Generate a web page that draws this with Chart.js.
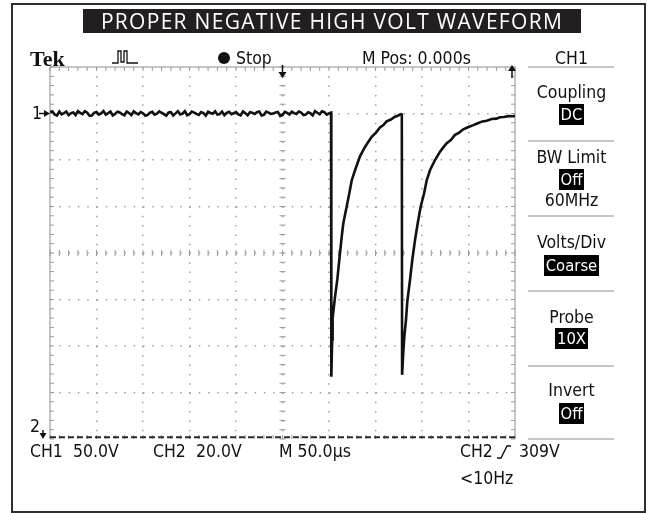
<!DOCTYPE html>
<html>
<head>
<meta charset="utf-8">
<title>Proper negative high volt waveform</title>
<script src="https://cdn.jsdelivr.net/npm/chart.js@4.4.1/dist/chart.umd.min.js"></script>
<style>
  html, body { margin: 0; padding: 0; background: #fff; }
  #wrap { position: relative; width: 648px; height: 513px; overflow: hidden; background: #fff; }
  #frame { position: absolute; left: 11px; top: 3px; width: 635px; height: 510px; box-sizing: border-box; border: 2.5px solid #2e2e2e; }
  #scope { position: absolute; left: 0; top: 0; }
  .t { position: absolute; font-family: "DejaVu Sans Condensed", "DejaVu Sans", sans-serif; font-stretch: condensed; font-size: 17.5px; line-height: 1; color: #111; white-space: nowrap; }
  #title { position: absolute; left: 83px; top: 9px; width: 498px; height: 24px; background: #231f20; color: #fff; text-align: center; font-family: "Open Sans", "Noto Sans", sans-serif; font-size: 21px; line-height: 25px; letter-spacing: 1.3px; }
  #tek { position: absolute; left: 30px; top: 48px; font-family: "Liberation Serif", serif; font-weight: bold; font-size: 22px; line-height: 1; color: #111; }
  #dot { position: absolute; left: 218px; top: 52px; width: 12px; height: 12px; border-radius: 50%; background: #111; }
  .panel { position: absolute; left: 528px; width: 87px; text-align: center; }
  .sep { position: absolute; left: 528px; width: 86px; height: 1.5px; background: #c6c6c6; }
  .box { display: inline-block; background: #000; color: #fff; padding: 2px 2px; line-height: 17px; font-size: 16.5px; }
  #icons { position: absolute; left: 0; top: 0; }
</style>
</head>
<body>
<div id="wrap">
  <canvas id="scope" width="648" height="513"></canvas>
  <div id="frame"></div>
  <div id="title">PROPER NEGATIVE HIGH VOLT WAVEFORM</div>

  <svg id="icons" width="648" height="513" viewBox="0 0 648 513">
    <polyline points="112,63 118,63 118,51 121,51 121,62 124,62 124,51 127,51 127,63 138,63"
      fill="none" stroke="#111" stroke-width="1.3"/>
    <polyline points="497,458 501,458 507,446 511,446" fill="none" stroke="#111" stroke-width="1.4"/>
  </svg>

  <div id="tek">Tek</div>
  <div id="dot"></div>
  <div class="t" style="left:236px;top:50px">Stop</div>
  <div class="t" style="left:362px;top:50px">M Pos: 0.000s</div>

  <div class="t panel" style="top:50px">CH1</div>
  <div class="sep" style="top:66px"></div>
  <div class="t panel" style="top:84px">Coupling</div>
  <div class="t panel" style="top:104px"><span class="box">DC</span></div>
  <div class="sep" style="top:140px"></div>
  <div class="t panel" style="top:149px">BW Limit</div>
  <div class="t panel" style="top:169px"><span class="box">Off</span></div>
  <div class="t panel" style="top:192px">60MHz</div>
  <div class="sep" style="top:215px"></div>
  <div class="t panel" style="top:234px">Volts/Div</div>
  <div class="t panel" style="top:255px"><span class="box">Coarse</span></div>
  <div class="sep" style="top:290px"></div>
  <div class="t panel" style="top:309px">Probe</div>
  <div class="t panel" style="top:328px"><span class="box">10X</span></div>
  <div class="sep" style="top:365px"></div>
  <div class="t panel" style="top:382px">Invert</div>
  <div class="t panel" style="top:403px"><span class="box">Off</span></div>
  <div class="sep" style="top:438px"></div>

  <div class="t" style="left:32px;top:105px">1</div>
  <div class="t" style="left:30px;top:418px">2</div>

  <div class="t" style="left:30px;top:443px">CH1</div>
  <div class="t" style="left:73px;top:443px">50.0V</div>
  <div class="t" style="left:153px;top:443px">CH2</div>
  <div class="t" style="left:196px;top:443px">20.0V</div>
  <div class="t" style="left:279px;top:443px">M 50.0µs</div>
  <div class="t" style="left:460px;top:443px">CH2</div>
  <div class="t" style="left:519px;top:443px">309V</div>
  <div class="t" style="left:460px;top:470px">&lt;10Hz</div>
</div>

<script>
// time base 50 us/div, CH1 50 V/div, CH1 ground one division below the top
const flatTimeUs = [
  -250, -247.5, -245, -242.5, -240, -237.5, -235, -232.5, -230, -227.5,
  -225, -222.5, -220, -217.5, -215, -212.5, -210, -207.5, -205, -202.5,
  -200, -197.5, -195, -192.5, -190, -187.5, -185, -182.5, -180, -177.5,
  -175, -172.5, -170, -167.5, -165, -162.5, -160, -157.5, -155, -152.5,
  -150, -147.5, -145, -142.5, -140, -137.5, -135, -132.5, -130, -127.5,
  -125, -122.5, -120, -117.5, -115, -112.5, -110, -107.5, -105, -102.5,
  -100, -97.5, -95, -92.5, -90, -87.5, -85, -82.5, -80, -77.5,
  -75, -72.5, -70, -67.5, -65, -62.5, -60, -57.5, -55, -52.5,
  -50, -47.5, -45, -42.5, -40, -37.5, -35, -32.5, -30, -27.5,
  -25, -22.5, -20, -17.5, -15, -12.5, -10, -7.5, -5, -2.5,
  0, 2.5, 5, 7.5, 10, 12.5, 15, 17.5, 20, 22.5,
  25, 27.5, 30, 32.5, 35, 37.5, 40, 42.5, 45, 47.5,
  50
];
const flatCh1V = [
  1.5, 2.4, -1.0, -2.2, 2.2, -0.9, 0.4, 2.1, -1.8, 0.3,
  1.1, -1.6, 2.6, 0.7, -0.6, 2.5, 0.9, -2.4, -2.1, 0.8,
  1.7, -1.1, 0.2, 2.6, -1.3, 0.4, 2.0, -2.0, -0.4, 1.9,
  1.2, -0.8, -1.9, 2.2, 0.6, -1.7, 2.3, 0.5, -0.9, 1.6,
  0.3, -2.4, -1.5, 0.9, 1.8, -1.3, -0.2, 2.3, 0.8, -0.6,
  -2.3, 1.2, 1.4, -2.1, 0.1, 2.5, -1.1, -0.2, 2.4, -1.9,
  -0.7, 2.0, 1.0, -0.4, -1.6, 1.5, 0.5, -2.2, 1.9, 0.6,
  -0.3, 2.4, -1.2, -0.7, 2.1, -1.8, 0.7, 1.9, -0.8, 0.3,
  1.6, -1.0, -2.0, 2.3, 0.4, -1.9, 1.3, 0.7, -0.5, 1.4,
  2.2, -2.2, -1.4, 2.1, 0.9, -0.5, -0.1, 1.0, 1.7, -2.5,
  -1.7, 1.8, 0.6, -1.1, 2.0, 0.4, -0.6, 2.2, 1.1, -1.6,
  -1.2, 1.3, 0.3, -2.0, 2.5, 0.8, -0.9, 2.4, 1.4, -1.3,
  0.2
];

const pulse1TimeUs = [52.2, 52.5, 53.4, 53.9, 56.5, 58.9, 61.1, 63.7, 65.4, 69.0, 71.8, 74.4, 78.0, 83.3, 88.7, 92.0, 95.9, 100.5, 104.8, 108.5, 112.0, 116.5, 120.9, 124.0, 126.3, 128.0];
const pulse1Ch1V = [1.0, -283, -243, -220, -197, -179, -157, -132, -118, -100, -86, -72, -61, -46, -36, -31, -25, -20.5, -15, -12.5, -8.5, -6.5, -3.5, -2.5, -1.0, -0.5];

const pulse2TimeUs = [128.3, 128.6, 129.9, 131.0, 132.8, 134.2, 137.1, 139.6, 142.5, 145.4, 148.6, 152.2, 155.0, 158.6, 164.0, 169.4, 172.5, 176.6, 181.0, 185.5, 190.0, 194.4, 200.0, 205.2, 210.0, 215.0, 219.6, 225.0, 230.0, 233.9, 238.0, 243.0, 248.2, 250.0];
const pulse2Ch1V = [0, -281, -256, -240, -222, -202, -179, -157, -136, -118, -100, -86, -72, -61, -50, -41, -37, -32, -28.5, -23, -20.5, -17, -14.5, -12.5, -10.5, -8.5, -7.7, -6, -5.5, -4, -3.8, -2.8, -3.0, -2.5];

// CH2 trace sits on the bottom of the screen
const ch2TimeUs = [-250, 250];
const ch2V = [-348, -348];

const toPoints = (xs, ys) => xs.map((t, i) => ({ x: t, y: ys[i] }));

const ch1Points = toPoints(flatTimeUs, flatCh1V)
  .concat(toPoints(pulse1TimeUs, pulse1Ch1V))
  .concat(toPoints(pulse2TimeUs, pulse2Ch1V));
const ch2Points = toPoints(ch2TimeUs, ch2V);

const edgeGray = "#b4b4b4";
const dotGray = "#a0a0a0";

const scopeScreen = {
  id: "scopeScreen",
  beforeDatasetsDraw(chart) {
    const { ctx, chartArea: a, scales: { x, y } } = chart;
    ctx.save();
    ctx.strokeStyle = edgeGray;
    ctx.lineWidth = 1.5;
    ctx.beginPath();
    ctx.moveTo(a.left, a.bottom);
    ctx.lineTo(a.left, a.top);
    ctx.lineTo(a.right, a.top);
    ctx.lineTo(a.right, a.bottom);
    ctx.stroke();

    // minor graticule marks, 5 per division
    const cx = x.getPixelForValue(0);
    const cy = y.getPixelForValue(-150);
    ctx.lineWidth = 1;
    ctx.strokeStyle = "#9a9a9a";
    ctx.beginPath();
    for (let v = y.min; v <= y.max; v += 10) {
      const py = y.getPixelForValue(v);
      ctx.moveTo(a.left, py); ctx.lineTo(a.left + 4, py);
      ctx.moveTo(a.right - 4, py); ctx.lineTo(a.right, py);
      ctx.moveTo(cx - 3, py); ctx.lineTo(cx + 3, py);
    }
    for (let t = x.min; t <= x.max; t += 10) {
      const px = x.getPixelForValue(t);
      ctx.moveTo(px, a.top); ctx.lineTo(px, a.top + 4);
      ctx.moveTo(px, a.bottom); ctx.lineTo(px, a.bottom - 4);
      ctx.moveTo(px, cy - 3); ctx.lineTo(px, cy + 3);
    }
    ctx.stroke();
    ctx.restore();
  },
  afterDatasetsDraw(chart) {
    const { ctx, chartArea: a, scales: { x, y } } = chart;
    ctx.save();
    ctx.fillStyle = "#111";
    ctx.strokeStyle = "#111";
    ctx.lineWidth = 1.5;

    // CH1 ground marker
    const g = y.getPixelForValue(0);
    ctx.beginPath();
    ctx.moveTo(a.left - 11, g); ctx.lineTo(a.left - 4, g);
    ctx.stroke();
    ctx.beginPath();
    ctx.moveTo(a.left, g); ctx.lineTo(a.left - 6, g - 3.5); ctx.lineTo(a.left - 6, g + 3.5);
    ctx.fill();

    // CH2 marker (off screen below)
    const mx = a.left - 7;
    ctx.beginPath();
    ctx.moveTo(mx, a.bottom - 9); ctx.lineTo(mx, a.bottom - 4);
    ctx.stroke();
    ctx.beginPath();
    ctx.moveTo(mx, a.bottom); ctx.lineTo(mx - 3.5, a.bottom - 6); ctx.lineTo(mx + 3.5, a.bottom - 6);
    ctx.fill();

    // trigger position arrow
    const tx = x.getPixelForValue(0);
    ctx.beginPath();
    ctx.moveTo(tx, a.top - 2); ctx.lineTo(tx, a.top + 6);
    ctx.stroke();
    ctx.beginPath();
    ctx.moveTo(tx, a.top + 11); ctx.lineTo(tx - 4, a.top + 5); ctx.lineTo(tx + 4, a.top + 5);
    ctx.fill();

    // right arrow on the top ruler
    const rx = a.right - 3;
    ctx.beginPath();
    ctx.moveTo(rx, a.top + 3); ctx.lineTo(rx, a.top + 11);
    ctx.stroke();
    ctx.beginPath();
    ctx.moveTo(rx, a.top - 2); ctx.lineTo(rx - 4, a.top + 4); ctx.lineTo(rx + 4, a.top + 4);
    ctx.fill();
    ctx.restore();
  }
};

const edgeTransparent = (lo, hi) => (c) =>
  c.tick && (c.tick.value === lo || c.tick.value === hi) ? "rgba(0,0,0,0)" : dotGray;

let scope = new Chart(document.getElementById("scope"), {
  type: "line",
  data: {
    datasets: [
      {
        label: "CH1",
        data: ch1Points,
        borderColor: "#111",
        borderWidth: 2.6,
        pointRadius: 0,
        tension: 0,
      },
      {
        label: "CH2",
        data: ch2Points,
        borderColor: "#2a2a2a",
        borderWidth: 2,
        borderDash: [6, 3],
        pointRadius: 0,
      },
    ],
  },
  options: {
    responsive: false,
    animation: false,
    devicePixelRatio: 1,
    layout: {
      padding: { left: 50, top: 67, right: 133, bottom: 74 },
    },
    plugins: {
      legend: { display: false },
      tooltip: { enabled: false },
    },
    scales: {
      x: {
        type: "linear",
        min: -250,
        max: 250,
        ticks: { display: false, stepSize: 50 },
        grid: { color: edgeTransparent(-250, 250), lineWidth: 1.5, drawTicks: false },
        border: { display: false, dash: [1.5, 7.8] },
      },
      y: {
        type: "linear",
        min: -350,
        max: 50,
        ticks: { display: false, stepSize: 50 },
        grid: { color: edgeTransparent(-350, 50), lineWidth: 1.5, drawTicks: false },
        border: { display: false, dash: [1.5, 7.8] },
      },
    },
  },
  plugins: [scopeScreen],
});
</script>
</body>
</html>
